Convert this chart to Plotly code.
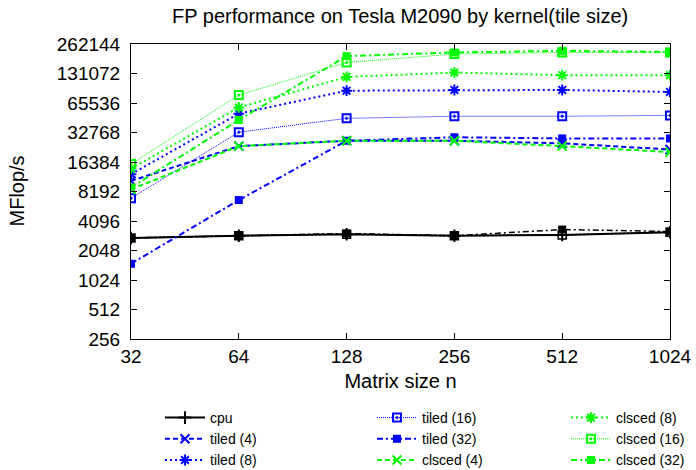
import plotly.graph_objects as go

sizes = [32, 64, 128, 256, 512, 1024]

cpu = [2750, 2900, 3000, 2900, 2950, 3150]
cpu_b = [2750, 2900, 3050, 2900, 3350, 3200]
tiled4 = [10500, 23800, 27000, 27000, 25400, 22000]
tiled8 = [12300, 51000, 87500, 89000, 89000, 85000]
tiled16 = [7000, 33000, 45700, 48000, 48000, 49000]
tiled32 = [1500, 6700, 27000, 29300, 28500, 28500]
clsced4 = [8600, 23800, 27000, 27000, 23800, 20700]
clsced8 = [14000, 59000, 121000, 134000, 126000, 126000]
clsced16 = [15600, 79000, 170000, 207000, 215000, 215000]
clsced32 = [9000, 44000, 197000, 215000, 223000, 218000]

ytick_vals = [256, 512, 1024, 2048, 4096, 8192, 16384, 32768, 65536, 131072, 262144]
xtick_vals = sizes

BLUE = "#0000ff"
GREEN = "#00ff00"
BLACK = "#000000"

series = [
    # name, data, color, dash, width, symbol, legend, rank
    ("cpu", cpu, BLACK, "solid", 2, "cross-thin-open", "legend", 1),
    ("tiled (4)", tiled4, BLUE, "5px,3px", 2, "x-thin-open", "legend", 2),
    ("tiled (8)", tiled8, BLUE, "2px,3px", 2, "asterisk-open", "legend", 3),
    ("tiled (16)", tiled16, BLUE, "1px,1px", 1, "square-open-dot", "legend2", 4),
    ("tiled (32)", tiled32, BLUE, "6px,3px,2px,3px", 2, "square", "legend2", 5),
    ("clsced (4)", clsced4, GREEN, "5px,3px", 2, "x-thin-open", "legend2", 6),
    ("clsced (8)", clsced8, GREEN, "2px,3px", 2, "asterisk-open", "legend3", 7),
    ("clsced (16)", clsced16, GREEN, "1px,1px", 1, "square-open-dot", "legend3", 8),
    ("clsced (32)", clsced32, GREEN, "6px,3px,2px,3px", 2, "square", "legend3", 9),
]

fig = go.Figure()

# extra untitled cpu curves drawn in black
fig.add_trace(go.Scatter(x=sizes, y=cpu_b, mode="lines+markers", showlegend=False,
                         line=dict(color=BLACK, width=1.5, dash="6px,3px,2px,3px"),
                         marker=dict(symbol="square", size=8, color=BLACK)))
fig.add_trace(go.Scatter(x=sizes, y=cpu, mode="lines+markers", showlegend=False,
                         line=dict(color=BLACK, width=1.5, dash="2px,2px"),
                         marker=dict(symbol="square-open-dot", size=8, color=BLACK,
                                     line=dict(width=1.5, color=BLACK))))

for name, data, color, dash, width, symbol, leg, rank in series:
    mk = dict(symbol=symbol, size=8 if "square" in symbol else 9, color=color,
              line=dict(width=2 if "open" in symbol else 0, color=color))
    fig.add_trace(go.Scatter(x=sizes, y=data, name=name, mode="lines+markers",
                             line=dict(color=color, width=width, dash=dash),
                             marker=mk, legend=leg, legendrank=rank))

FAM = "Liberation Sans, Arial, sans-serif"
font = dict(family=FAM, size=19, color="#000000")

legcommon = dict(orientation="v", yanchor="top", xanchor="left",
                 xref="container", yref="container", y=(470 - 402) / 470,
                 font=dict(family=FAM, size=14, color="#000"),
                 bgcolor="rgba(0,0,0,0)", itemwidth=40, tracegroupgap=0)

fig.update_layout(
    width=696, height=470,
    margin=dict(l=131, r=26, t=44, b=131, autoexpand=False),
    paper_bgcolor="white", plot_bgcolor="white",
    font=font,
    title=dict(text="FP performance on Tesla M2090 by kernel(tile size)",
               x=0.575, xanchor="center", y=0.967, yanchor="middle",
               font=dict(family=FAM, size=20)),
    xaxis=dict(type="log", range=[1.50515, 3.0103], tickvals=xtick_vals,
               ticktext=[str(v) for v in xtick_vals], tickfont=dict(size=19),
               showline=True, linecolor="black", linewidth=1, mirror="ticks",
               ticks="inside", ticklen=6, tickcolor="black", showgrid=False,
               zeroline=False, title=dict(text="Matrix size n", standoff=8,
                                          font=dict(size=20))),
    yaxis=dict(type="log", range=[2.40824, 5.41854], tickvals=ytick_vals,
               ticktext=[str(v) for v in ytick_vals], tickfont=dict(size=19),
               ticklabelstandoff=6,
               showline=True, linecolor="black", linewidth=1, mirror="ticks",
               ticks="inside", ticklen=6, tickcolor="black", showgrid=False,
               zeroline=False),
    annotations=[dict(text="MFlop/s", xref="paper", yref="paper", x=(16 - 131) / 539,
                      y=0.5, textangle=-90, showarrow=False, xanchor="center",
                      yanchor="middle", font=dict(family=FAM, size=20))],
    legend=dict(x=160 / 696, **legcommon),
    legend2=dict(x=372 / 696, **legcommon),
    legend3=dict(x=566 / 696, **legcommon),
)

fig.write_html("out.html")
